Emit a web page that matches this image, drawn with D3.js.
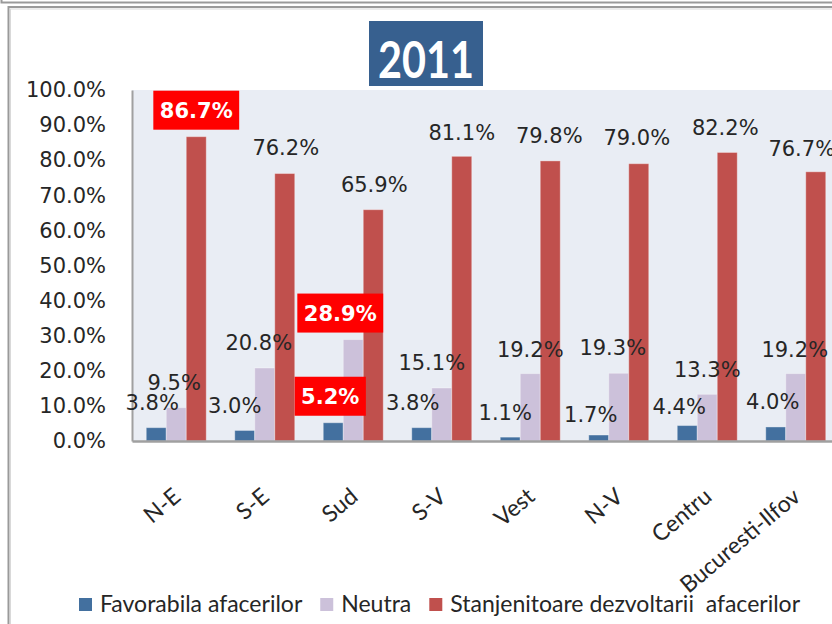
<!DOCTYPE html>
<html>
<head>
<meta charset="utf-8">
<script src="https://cdn.jsdelivr.net/npm/d3@7"></script>
<style>
  html, body { margin: 0; padding: 0; background: #ffffff; }
  svg { display: block; }
</style>
</head>
<body>
<svg id="chart" width="832" height="624"></svg>
<script>
// ---------- data ----------
const title = "2011";
const categories = ["N-E", "S-E", "Sud", "S-V", "Vest", "N-V", "Centru", "Bucuresti-Ilfov"];
const seriesNames = ["Favorabila afacerilor", "Neutra", "Stanjenitoare dezvoltarii  afacerilor"];
const favorabila = [3.8, 3.0, 5.2, 3.8, 1.1, 1.7, 4.4, 4.0];
const neutra = [9.5, 20.8, 28.9, 15.1, 19.2, 19.3, 13.3, 19.2];
const stanjenitoare = [86.7, 76.2, 65.9, 81.1, 79.8, 79.0, 82.2, 76.7];
const yTicks = [0, 10, 20, 30, 40, 50, 60, 70, 80, 90, 100];
// labels shown highlighted (series index, category index)
const highlighted = [[2, 0], [1, 2], [0, 2]];

// ---------- layout nudges for data labels (pixels) ----------
const labelDx = [
  [-4, -10, -3, -9, -5, -8, -8, -3],
  [-2, -6, -13, -10, 0, -6, 0, -1],
  [0, 1, 1, 0, -1, -2, -2, -14]
];
const labelDy = [
  [0, 0, 0, 0, 0, 4.5, 6, 0],
  [0, 0, 0, 0, 1, -1, 0, 1],
  [0, -1, 0, 1, 0, -1, 0, 2]
];

const colors = ["#43709F", "#CCC1DA", "#C0504D"];
const values = [favorabila, neutra, stanjenitoare];

const svg = d3.select("#chart");

// ---------- frames ----------
svg.append("rect").attr("x", 1.5).attr("y", -10).attr("width", 850).attr("height", 12.5)
  .attr("fill", "none").attr("stroke", "#9a9a9a").attr("stroke-width", 2);
svg.append("rect").attr("x", 8.5).attr("y", 7).attr("width", 860).attr("height", 660)
  .attr("fill", "#ffffff").attr("stroke", "#9a9a9a").attr("stroke-width", 2);
svg.append("rect").attr("x", 10.5).attr("y", 9).attr("width", 860).attr("height", 660)
  .attr("fill", "none").attr("stroke", "#d9d9d9").attr("stroke-width", 1);

// ---------- scales ----------
const plot = { left: 132, right: 840, top: 90, bottom: 441 };
const x0 = d3.scaleBand().domain(categories).range([plot.left, plot.right])
  .paddingInner(0.322).paddingOuter(0.161);
const x1 = d3.scaleBand().domain(d3.range(3)).range([0, x0.bandwidth()]);
const y = d3.scaleLinear().domain([0, 100]).range([plot.bottom, plot.top]);

// plot background
svg.append("rect").attr("x", plot.left).attr("y", plot.top)
  .attr("width", plot.right - plot.left).attr("height", plot.bottom - plot.top)
  .attr("fill", "#E9EDF4");

// ---------- bars ----------
const groups = svg.append("g").selectAll("g").data(categories).join("g")
  .attr("transform", d => `translate(${x0(d)},0)`);
groups.selectAll("rect")
  .data((c, ci) => values.map((arr, si) => ({ si, ci, v: arr[ci] })))
  .join("rect")
  .attr("x", d => x1(d.si))
  .attr("width", x1.bandwidth())
  .attr("y", d => y(d.v))
  .attr("height", d => y(0) - y(d.v))
  .attr("fill", d => colors[d.si])
  .attr("stroke", "rgba(255,255,255,0.35)")
  .attr("stroke-width", 1);

// ---------- axes ----------
const yAxis = d3.axisLeft(y).tickValues(yTicks).tickSize(0).tickPadding(26)
  .tickFormat(d => d3.format(".1f")(d) + "%");
const yg = svg.append("g").attr("transform", `translate(${plot.left},0)`).call(yAxis);
yg.select(".domain").attr("stroke", "#A0A0A0").attr("stroke-width", 2);
yg.selectAll("text").attr("font-family", "'DejaVu Sans', Verdana, sans-serif")
  .attr("font-size", 21).attr("fill", "#262626");

const xAxis = d3.axisBottom(x0).tickSize(0).tickFormat(d => d);
const xg = svg.append("g").attr("transform", `translate(0,${plot.bottom})`).call(xAxis);
xg.select(".domain").attr("stroke", "#A0A0A0").attr("stroke-width", 2.5);
xg.selectAll("text")
  .attr("font-family", "Lato, 'Open Sans', sans-serif")
  .attr("font-size", 23).attr("fill", "#262626")
  .attr("text-anchor", "end")
  .attr("dy", null).attr("y", 0)
  .attr("transform", "translate(6,58) rotate(-40)");

// ---------- data labels ----------
const labelData = [];
values.forEach((arr, si) => arr.forEach((v, ci) => labelData.push({ si, ci, v })));
const isHi = d => highlighted.some(h => h[0] === d.si && h[1] === d.ci);
const lx = d => x0(categories[d.ci]) + x1(d.si) + x1.bandwidth() / 2 + labelDx[d.si][d.ci];

const normal = labelData.filter(d => !isHi(d));
svg.append("g").selectAll("text").data(normal).join("text")
  .attr("x", lx)
  .attr("y", d => y(d.v) - 17.5 + labelDy[d.si][d.ci])
  .attr("text-anchor", "middle")
  .attr("font-family", "'DejaVu Sans', Verdana, sans-serif")
  .attr("font-size", 21).attr("fill", "#262626")
  .text(d => d3.format(".1f")(d.v) + "%");

const hi = svg.append("g").selectAll("g").data(labelData.filter(isHi)).join("g");
hi.each(function (d) {
  const g = d3.select(this);
  const t = g.append("text")
    .attr("x", lx(d)).attr("y", y(d.v) - 19)
    .attr("text-anchor", "middle")
    .attr("font-family", "'DejaVu Sans', Verdana, sans-serif")
    .attr("font-weight", "bold")
    .attr("font-size", 21).attr("fill", "#ffffff")
    .text(d3.format(".1f")(d.v) + "%");
  const w = t.node().getComputedTextLength();
  g.insert("rect", "text")
    .attr("x", lx(d) - w / 2 - 6.5).attr("y", y(d.v) - 19 - 27)
    .attr("width", w + 13).attr("height", 39)
    .attr("fill", "#FF0000");
});

// ---------- title ----------
const tg = svg.append("g");
tg.append("rect").attr("x", 369).attr("y", 21).attr("width", 114).attr("height", 65)
  .attr("fill", "#37608F");
tg.append("text").attr("x", 426).attr("y", 78)
  .attr("text-anchor", "middle")
  .attr("font-family", "Lato, 'Open Sans', sans-serif")
  .attr("font-weight", "bold").attr("font-size", 52)
  .attr("fill", "#ffffff")
  .attr("textLength", 96).attr("lengthAdjust", "spacingAndGlyphs")
  .text(title);

// ---------- legend ----------
const lg = svg.append("g").attr("transform", "translate(79,598)");
let cx = 0;
seriesNames.forEach((name, i) => {
  lg.append("rect").attr("x", cx).attr("y", 0).attr("width", 13).attr("height", 13)
    .attr("fill", colors[i]);
  const t = lg.append("text").attr("x", cx + 21).attr("y", 14)
    .attr("font-family", "Lato, 'Open Sans', sans-serif")
    .attr("font-size", 23).attr("fill", "#262626")
    .attr("xml:space", "preserve")
    .text(name);
  cx += 21 + t.node().getComputedTextLength() + 18;
});
</script>
</body>
</html>
